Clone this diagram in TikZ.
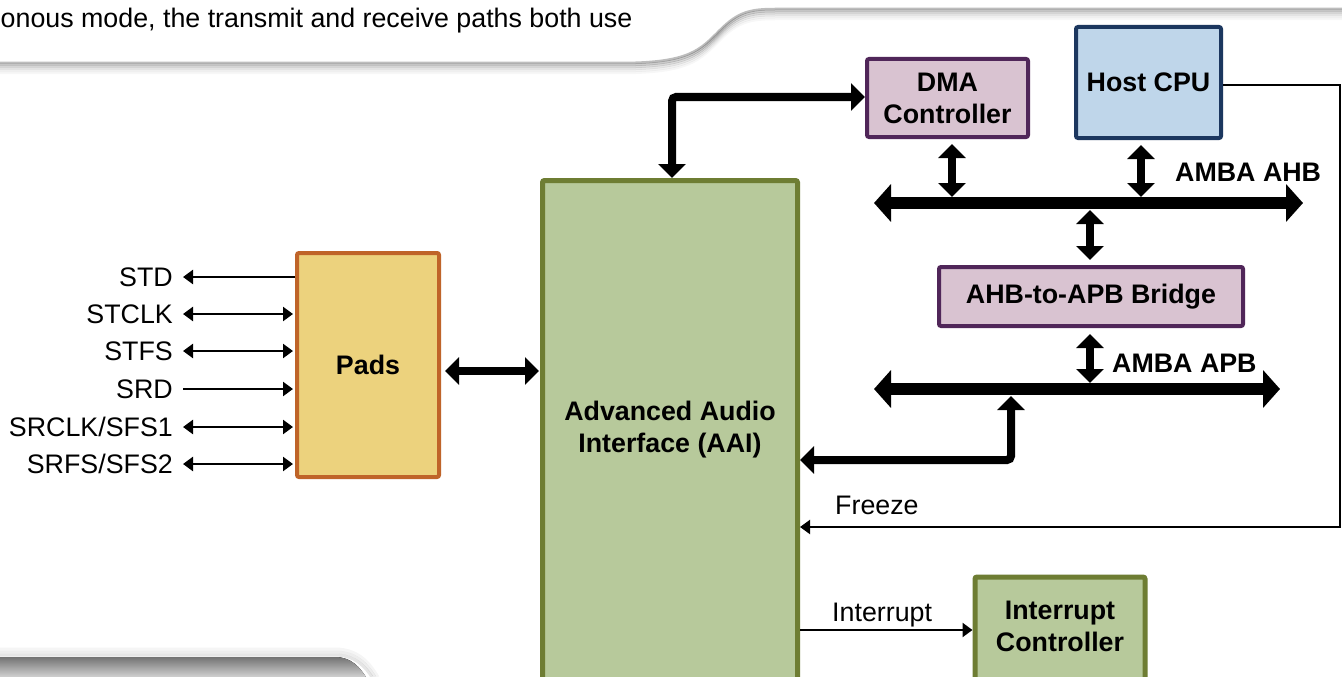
\documentclass[tikz,border=0pt]{standalone}
\usepackage{fontspec}
\setmainfont{Liberation Sans}
\usetikzlibrary{arrows.meta,calc}
\definecolor{dmafill}{HTML}{D9C3D1}
\definecolor{dmaline}{HTML}{502659}
\definecolor{cpufill}{HTML}{BFD6EA}
\definecolor{cpuline}{HTML}{1C375F}
\definecolor{aaifill}{HTML}{B7C99B}
\definecolor{aailine}{HTML}{6E7D33}
\definecolor{padfill}{HTML}{ECD27D}
\definecolor{padline}{HTML}{BF6429}
\tikzset{
  tt/.tip={Triangle[width=14pt,length=10pt]},
  ft/.tip={Triangle[width=27pt,length=14pt]},
  bt/.tip={Triangle[width=37pt,length=17pt]},
}
\begin{document}
\begin{tikzpicture}[x=1pt,y=-1pt,
  every node/.style={font=\fontsize{26.8}{32}\selectfont, inner sep=0pt},
  blk/.style={line width=4pt, rounded corners=2pt, align=center,
              font=\fontsize{26.8}{32}\selectfont\bfseries},
  bold/.style={font=\fontsize{26.8}{32}\selectfont\bfseries},
  sig/.style={line width=2.4pt},
  fat/.style={line width=8pt, {ft}-{ft}, rounded corners=4pt},
  bus/.style={line width=12.5pt, {bt}-{bt}},
]
\useasboundingbox (0,0) rectangle (1342,677);
\clip (0,0) rectangle (1342,677);
\fill[white] (0,0) rectangle (1342,677);

% background decoration (top swoosh shadow)
\foreach \s/\o in {0/0.26,2/0.20,4/0.14,6/0.09,8/0.05,10/0.03}{
  \draw[line width=2.5pt, black, opacity=\o]
    (0,63+\s) -- (620,63+\s) .. controls (690,63+\s) and (700,50+\s) .. (720,30+\s)
    .. controls (738,12+\s) and (750,9+\s) .. (775,9+\s) -- (1342,9+\s);
}
% bottom-left bar
\foreach \s/\o in {8/0.04,5/0.07,2/0.10}{
  \draw[line width=3pt, black, opacity=\o]
    (0,657-\s) -- (335,657-\s) .. controls (354+\s,657-\s) and (364+\s,668) .. (370+\s,677);
}
\fill[top color=black!55, bottom color=black!18]
  (0,657) -- (335,657) .. controls (352,657) and (360,668) .. (366,677) -- (0,677) -- cycle;

% top text
\node[anchor=base west] (toptext) at (0.5,28) {onous mode, the transmit and receive paths both use};

% blocks
\node[blk, draw=dmaline, fill=dmafill, minimum width=161pt, minimum height=78pt] (dma) at (947.5,98) {DMA\\Controller};
\node[blk, draw=cpuline, fill=cpufill, minimum width=145pt, minimum height=111pt] (cpu) at (1148.5,82.5) {Host CPU};
\node[blk, draw=aailine, fill=aaifill, line width=5pt, minimum width=255pt, minimum height=540pt] (aai) at (670,450.5) {};
\node[bold, align=center] (aaitext) at (670,430) {Advanced Audio\\Interface (AAI)};
\node[blk, draw=padline, fill=padfill, minimum width=142pt, minimum height=224pt] (pads) at (368,365) {Pads};
\node[blk, draw=dmaline, fill=dmafill, minimum width=304pt, minimum height=59pt] (bridge) at (1091,296.5) {AHB-to-APB Bridge};
\node[blk, draw=aailine, fill=aaifill, line width=5pt, minimum width=170pt, minimum height=143pt] (intc) at (1060,648.5) {};
\node[bold, align=center] (intctext) at (1060,626) {Interrupt\\Controller};

% buses
\coordinate (ahbL) at (874,203);
\coordinate (ahbR) at (1303,203);
\coordinate (apbL) at (874,389);
\coordinate (apbR) at (1280,389);
\draw[bus] (ahbL) -- (ahbR);
\draw[bus] (apbL) -- (apbR);
\node[bold, anchor=base west] (ahblabel) at (1175,181) {AMBA AHB};
\node[bold, anchor=base west] (apblabel) at (1112,372) {AMBA APB};

% AAI <-> DMA
\coordinate (dmaturn) at (672,97);
\draw[fat] (dmaturn |- aai.north) -- (dmaturn) -- (dma.west |- dmaturn);

% DMA, CPU <-> AHB
\coordinate (dmab) at (952,197);
\coordinate (cpub) at (1141,197);
\draw[fat, rounded corners=0pt, shorten <=5pt] (dmab |- dma.south) -- (dmab);
\draw[fat, rounded corners=0pt, shorten <=5pt] (cpub |- cpu.south) -- (cpub);

% AHB <-> bridge <-> APB
\coordinate (brt) at (1090,210);
\coordinate (brb) at (1090,383);
\draw[fat, rounded corners=0pt, shorten >=5pt] (brt) -- (brt |- bridge.north);
\draw[fat, rounded corners=0pt, shorten <=6pt] (brb |- bridge.south) -- (brb);

% AAI <-> APB
\coordinate (apbturn) at (1011,460);
\coordinate (apbk) at (1011,396);
\draw[fat] (aai.east |- apbturn) -- (apbturn) -- (apbk);

% Pads <-> AAI
\coordinate (pa) at (0,371);
\draw[fat, rounded corners=0pt, shorten <=4pt, shorten >=1pt] (pads.east |- pa) -- (aai.west |- pa);

% Freeze
\coordinate (fz1) at (1340,85);
\coordinate (fz2) at (1340,527);
\draw[sig, line width=2pt, -{tt}] (cpu.east |- fz1) -- (fz1) -- (fz2) -- (aai.east |- fz2);
\node[anchor=base west] (freeze) at (835,514) {Freeze};

% Interrupt
\coordinate (intr) at (973,630);
\draw[sig, -{tt}] (aai.east |- intr) -- (intc.west |- intr);
\node[anchor=base west] (intlabel) at (832,621) {Interrupt};

% left signals
\node[anchor=base east] (lstd) at (173,286) {STD};
\node[anchor=base east] (lstclk) at (173,323) {STCLK};
\node[anchor=base east] (lstfs) at (173,360) {STFS};
\node[anchor=base east] (lsrd) at (173,398) {SRD};
\node[anchor=base east] (lsrclk) at (173,436) {SRCLK/SFS1};
\node[anchor=base east] (lsrfs) at (173,473) {SRFS/SFS2};
\coordinate (cstd) at (183,277);
\coordinate (cstclk) at (183,314);
\coordinate (cstfs) at (183,351);
\coordinate (csrd) at (183,389);
\coordinate (csrclk) at (183,427);
\coordinate (csrfs) at (183,464);
\draw[sig, -{tt}] (pads.west |- cstd) -- (cstd);
\draw[sig, {tt}-{tt}, shorten >=2pt] (cstclk) -- (pads.west |- cstclk);
\draw[sig, {tt}-{tt}, shorten >=2pt] (cstfs) -- (pads.west |- cstfs);
\draw[sig, -{tt}, shorten >=2pt] (csrd) -- (pads.west |- csrd);
\draw[sig, {tt}-{tt}, shorten >=2pt] (csrclk) -- (pads.west |- csrclk);
\draw[sig, {tt}-{tt}, shorten >=2pt] (csrfs) -- (pads.west |- csrfs);
\end{tikzpicture}
\end{document}
